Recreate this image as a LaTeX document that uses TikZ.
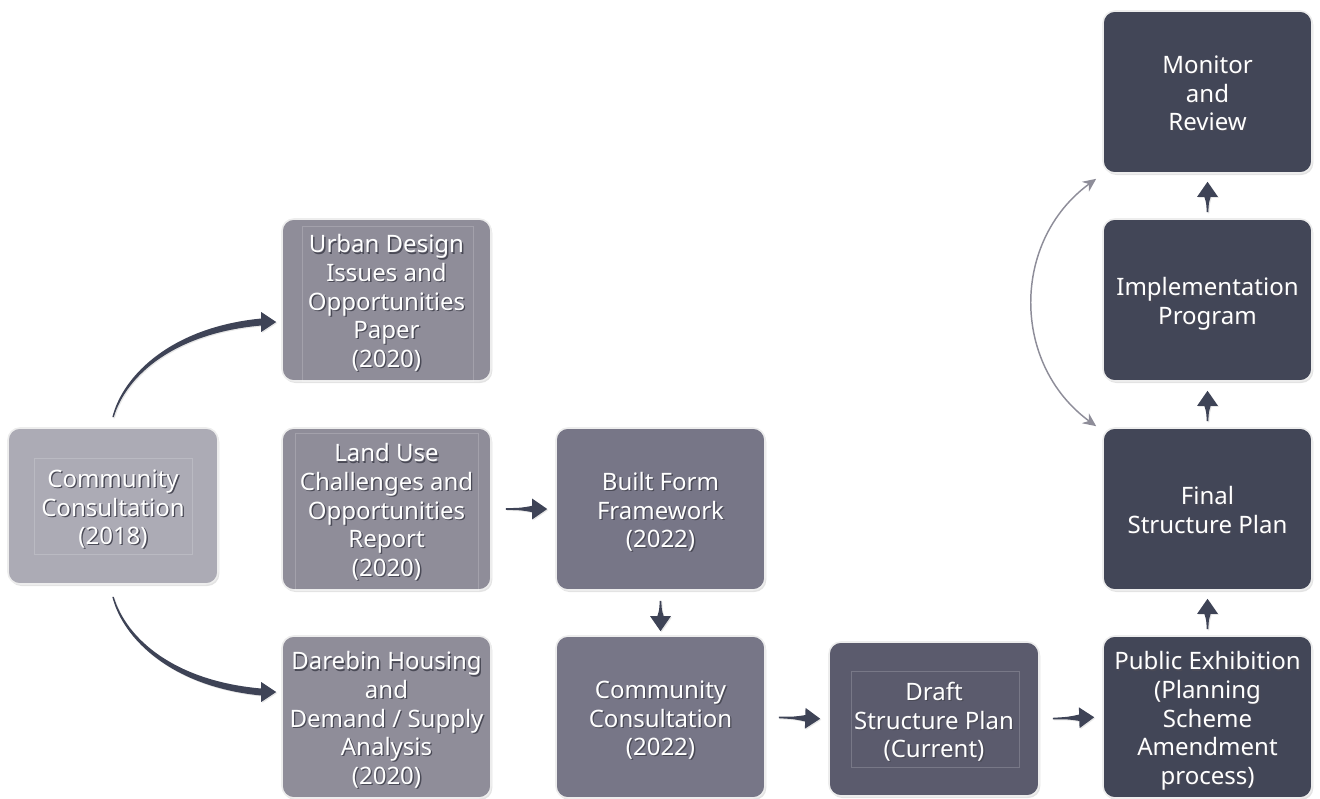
\documentclass[tikz,border=0pt]{standalone}
\usepackage{fontspec}
\setmainfont{Noto Sans}
\usetikzlibrary{calc,shadows,arrows.meta}
\definecolor{c18}{HTML}{ACABB5}
\definecolor{cmid}{HTML}{8F8D99}
\definecolor{c22}{HTML}{777687}
\definecolor{cdraft}{HTML}{5B5B6D}
\definecolor{cdark}{HTML}{424657}
\definecolor{carrow}{HTML}{3E4356}
\definecolor{cgrey}{HTML}{8E8D99}
\definecolor{tshadow}{HTML}{4A4A56}
\newcommand\shtxt[1]{\raisebox{-3.75pt}[\height][\depth]{\leavevmode\rlap{\hspace{1pt}\raisebox{-1pt}{\color{tshadow}\begin{tabular}{@{}c@{}}#1\end{tabular}}}\begin{tabular}{@{}c@{}}#1\end{tabular}}}
% tapered straight arrow: from anchor, to anchor, start gap, end gap
\newcommand\tarrow[4]{%
  \path ($(#1)!#3!(#2)$) coordinate (ts) ($(#2)!#4!(#1)$) coordinate (te)
        ($(te)!11.25pt!(ts)$) coordinate (tn);
  \fill[arrowfill] ($(ts)!0.6pt!90:(te)$) .. controls ($(ts)!0.6!(tn)!0.9pt!90:(te)$) .. ($(tn)!2.4pt!90:(te)$)
     -- ($(tn)!7.8pt!90:(te)$) -- (te) -- ($(tn)!7.8pt!-90:(te)$) -- ($(tn)!2.4pt!-90:(te)$)
     .. controls ($(ts)!0.6!(tn)!0.9pt!-90:(te)$) .. ($(ts)!0.6pt!-90:(te)$) -- cycle;}
\tikzset{
  box/.style={rectangle, rounded corners=9pt, minimum width=156.75pt, minimum height=121.5pt,
    draw=white!93!black, line width=1.2pt, text=white, inner sep=0pt,
    font=\fontsize{18}{21.4}\selectfont,
    drop shadow={opacity=0.22, shadow xshift=1pt, shadow yshift=-1.5pt}},
  inner/.style={draw=white, draw opacity=0.18, line width=0.5pt},
  arrowfill/.style={fill=carrow, drop shadow={opacity=0.2, shadow xshift=0.8pt, shadow yshift=-0.8pt}},
  cycarrow/.style={draw=cgrey, line width=1.1pt, {Stealth[length=10pt,width=9pt]}-{Stealth[length=10pt,width=9pt]}}
}
\begin{document}
\begin{tikzpicture}[x=0.75pt,y=-0.75pt]
\useasboundingbox (0,0) rectangle (1320,799);

\node[box, fill=c18, minimum width=157.5pt, minimum height=117pt] (cc18) at (113,506) {\shtxt{Community\\Consultation\\(2018)}};
\node[box, fill=cmid] (urban) at (386.5,300) {\shtxt{Urban Design\\Issues and\\Opportunities\\Paper\\(2020)}};
\node[box, fill=cmid] (land) at (386.5,509) {\shtxt{Land Use\\Challenges and\\Opportunities\\Report\\(2020)}};
\node[box, fill=cmid] (dare) at (386.5,717) {\shtxt{Darebin Housing\\and\\Demand / Supply\\Analysis\\(2020)}};
\node[box, fill=c22] (built) at (660.5,509) {\shtxt{Built Form\\Framework\\(2022)}};
\node[box, fill=c22] (cc22) at (660.5,717) {\shtxt{Community\\Consultation\\(2022)}};
\node[box, fill=cdraft, minimum width=157.5pt, minimum height=115.5pt] (draft) at (934,719) {\shtxt{Draft\\Structure Plan\\(Current)}};
\node[box, fill=cdark] (pub) at (1207.5,717) {\shtxt{Public Exhibition\\(Planning\\Scheme\\Amendment\\process)}};
\node[box, fill=cdark] (final) at (1207.5,509) {\shtxt{Final\\Structure Plan}};
\node[box, fill=cdark] (impl) at (1207.5,300) {\shtxt{Implementation\\Program}};
\node[box, fill=cdark] (mon) at (1207.5,92) {\shtxt{Monitor\\and\\Review}};

% faint inner frames
\draw[inner] ($(cc18.center)+(-79,-47.5)$) rectangle ($(cc18.center)+(79,48)$);
\draw[inner] ($(urban.center)+(-84.5,-74)$) rectangle ($(urban.center)+(86.5,81)$);
\draw[inner] ($(land.center)+(-91.5,-76)$) rectangle ($(land.center)+(91.5,81)$);
\draw[inner] ($(draft.center)+(-83,-48)$) rectangle ($(draft.center)+(85,48)$);

% straight tapered arrows
\tarrow{land.east}{built.west}{10.5pt}{6pt}
\tarrow{built.south}{cc22.north}{7.5pt}{3pt}
\tarrow{cc22.east}{draft.west}{9.75pt}{6pt}
\tarrow{draft.east}{pub.west}{9.75pt}{6pt}
\tarrow{pub.north}{final.south}{4.5pt}{6pt}
\tarrow{final.north}{impl.south}{4.5pt}{6.75pt}
\tarrow{impl.north}{mon.south}{4.5pt}{6pt}

% curved tapered arrows from the first consultation
\coordinate (ua) at ($(cc18.north)+(0,-10)$);
\coordinate (un) at ($(urban.west)+(-20,22)$);
\coordinate (ut) at ($(urban.west)+(-5,22)$);
\fill[arrowfill] ($(ua)+(-0.7,0)$) .. controls ($(ua)+(10.5,-43.5)$) and ($(un)+(-88,5)$) .. ($(un)+(0,-3.5)$)
  -- ($(un)+(0,-10)$) -- (ut) -- ($(un)+(0,10)$) -- ($(un)+(0,3.5)$)
  .. controls ($(un)+(-86,11)$) and ($(ua)+(13.5,-42.5)$) .. ($(ua)+(0.7,0)$) -- cycle;

\coordinate (da) at ($(cc18.south)+(0,12)$);
\coordinate (dn) at ($(dare.west)+(-20,-25)$);
\coordinate (dt) at ($(dare.west)+(-5,-25)$);
\fill[arrowfill] ($(da)+(-0.7,0)$) .. controls ($(da)+(10.5,43.5)$) and ($(dn)+(-88,-5)$) .. ($(dn)+(0,3.5)$)
  -- ($(dn)+(0,10)$) -- (dt) -- ($(dn)+(0,-10)$) -- ($(dn)+(0,-3.5)$)
  .. controls ($(dn)+(-86,-11)$) and ($(da)+(13.5,42.5)$) .. ($(da)+(0.7,0)$) -- cycle;

% review cycle
\coordinate (rt) at ($(mon.south west)+(-6,5)$);
\coordinate (rb) at ($(final.north west)+(-6,-1)$);
\draw[cycarrow] (rt) .. controls ($(rt)+(-85,62)$) and ($(rb)+(-85,-62)$) .. (rb);
\end{tikzpicture}
\end{document}
